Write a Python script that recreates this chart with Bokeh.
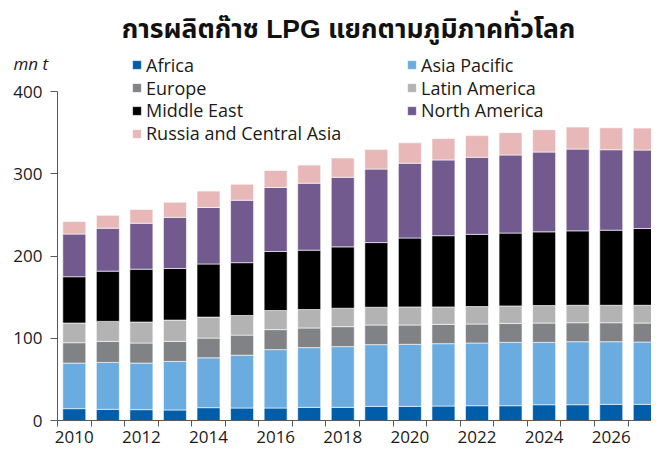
from bokeh.plotting import figure
from bokeh.models import (FixedTicker, Legend, LegendItem, Label, ColumnDataSource,
                          Range1d)
from bokeh.embed import file_html
from bokeh.resources import INLINE

years = list(range(2010, 2028))
africa = [14.4, 13.6, 13.2, 12.8, 15.6, 15.2, 15.2, 16.0, 16.0, 17.2, 17.2, 17.6, 18.0, 18.0, 19.2, 19.2, 19.6, 19.6]
asia_pacific = [55.4, 57.0, 56.6, 59.0, 60.6, 64.2, 71.0, 72.6, 73.8, 75.0, 75.4, 75.8, 76.2, 77.0, 75.8, 76.6, 76.2, 75.8]
europe = [24.8, 25.6, 24.4, 24.4, 24.0, 24.4, 24.3, 23.9, 24.3, 23.9, 23.5, 23.5, 23.1, 23.1, 23.5, 23.1, 23.1, 23.1]
latin_america = [23.9, 24.3, 25.5, 25.9, 25.5, 23.9, 23.2, 22.4, 22.4, 21.6, 22.0, 21.2, 21.2, 21.2, 21.2, 21.2, 21.2, 21.6]
middle_east = [56.3, 61.1, 64.3, 62.7, 64.6, 64.2, 71.8, 72.2, 74.6, 78.6, 83.8, 86.6, 87.8, 88.6, 89.7, 90.5, 91.3, 93.3]
north_america = [51.9, 52.2, 55.8, 62.2, 68.7, 75.9, 77.8, 81.4, 84.6, 89.4, 90.9, 92.1, 93.7, 94.9, 97.0, 99.4, 97.8, 95.4]
russia_ca = [15.1, 15.6, 16.8, 18.4, 19.9, 19.5, 20.8, 22.0, 23.5, 23.9, 24.8, 26.0, 26.4, 27.2, 27.2, 26.7, 26.7, 26.7]

names = ["Africa", "Asia Pacific", "Europe", "Latin America", "Middle East",
         "North America", "Russia and Central Asia"]
colors = ["#005DAA", "#6AACDF", "#808285", "#B3B3B3", "#000000", "#725A8F", "#E8B8B8"]
x_tick_labels = [2010, 2012, 2014, 2016, 2018, 2020, 2022, 2024, 2026]
y_ticks = [0, 100, 200, 300, 400]
title_text = "การผลิตก๊าซ LPG แยกตามภูมิภาคทั่วโลก"
unit_text = "mn t"

source = ColumnDataSource(dict(year=years, Africa=africa, AsiaPacific=asia_pacific,
                               Europe=europe, LatinAmerica=latin_america,
                               MiddleEast=middle_east, NorthAmerica=north_america,
                               Russia=russia_ca))
keys = ["Africa", "AsiaPacific", "Europe", "LatinAmerica", "MiddleEast", "NorthAmerica", "Russia"]

FONT = "Open Sans"
TXT = "#1a1a1a"
W, H = 651, 448
B = 420          # pixel row of the x axis (value 0)
AX = 57          # pixel column of the y axis
X0, X1 = years[0] - 0.5, 2027.2
cat_px = (W - AX) / (X1 - X0)
x_start = X0 - AX / cat_px
y_top = 91       # pixel row of 400
px_per_unit = (B - y_top) / 400
y_end = 400 + y_top / px_per_unit
y_start = -(H - B) / px_per_unit

p = figure(width=W, height=H, output_backend="svg", toolbar_location=None,
           x_range=Range1d(x_start, X1), y_range=Range1d(y_start, y_end))
p.min_border_left = 0
p.min_border_top = 0
p.min_border_bottom = 0
p.min_border_right = 0
p.outline_line_color = None
p.xgrid.visible = False
p.ygrid.visible = False
p.background_fill_color = "white"
p.border_fill_color = "white"

renderers = p.vbar_stack(keys, x="year", width=0.685, source=source, color=colors,
                         line_color="white", line_width=0.6)

# axes drawn at fixed data locations inside the frame
p.yaxis.fixed_location = X0
p.yaxis.ticker = FixedTicker(ticks=y_ticks)
p.yaxis.bounds = (0, 400)
p.yaxis.major_tick_out = 7
p.yaxis.major_tick_in = 0
p.yaxis.minor_tick_line_color = None
p.yaxis.major_label_standoff = 8
p.yaxis.axis_line_color = "#595959"
p.yaxis.major_tick_line_color = "#595959"
p.yaxis.major_label_text_font = FONT
p.yaxis.major_label_text_font_size = "17px"
p.yaxis.major_label_text_color = TXT

p.xaxis.fixed_location = 0
p.xaxis.ticker = FixedTicker(ticks=x_tick_labels, minor_ticks=[y - 0.5 for y in years])
p.xaxis.bounds = (X0, X1)
p.xaxis.major_tick_line_color = None
p.xaxis.minor_tick_out = 6
p.xaxis.minor_tick_in = 0
p.xaxis.minor_tick_line_color = "#595959"
p.xaxis.axis_line_color = "#595959"
p.xaxis.major_label_standoff = 4
p.xaxis.major_label_text_font = FONT
p.xaxis.major_label_text_font_size = "17px"
p.xaxis.major_label_text_color = TXT

# legend: two columns, one single-item legend per row for exact placement
LEG_FS = 18
item_h = 1.362 * LEG_FS
rows_y = [64.7, 87.5, 110.2, 132.8]
layout_pos = [(0, 0), (1, 0), (0, 1), (1, 1), (0, 2), (1, 2), (0, 3)]
col_x = [131, 406]
for i, (c, r) in enumerate(layout_pos):
    leg = Legend(items=[LegendItem(label=names[i], renderers=[renderers[i]])],
                 location=(col_x[c], H - rows_y[r] - item_h / 2),
                 orientation="vertical", glyph_width=11, glyph_height=11,
                 label_standoff=4, spacing=0, label_height=11, padding=0, margin=0,
                 border_line_color=None, background_fill_alpha=0,
                 label_text_font=FONT, label_text_font_size=f"{LEG_FS}px",
                 label_text_color=TXT)
    p.add_layout(leg, "center")

p.add_layout(Label(x=348, y=H - 28, x_units="screen", y_units="screen", text=title_text,
                   text_align="center", text_baseline="alphabetic",
                   text_font="Liberation Sans, Noto Sans Thai, Loma, Garuda, sans-serif",
                   text_font_size="26.5px", text_font_style="bold", text_color="#111111"))
p.add_layout(Label(x=13, y=H - 63, x_units="screen", y_units="screen", text=unit_text,
                   text_align="left", text_baseline="alphabetic", text_font=FONT,
                   text_font_size="17px", text_font_style="italic", text_color=TXT))

open("out.html", "w").write(file_html(p, INLINE))
